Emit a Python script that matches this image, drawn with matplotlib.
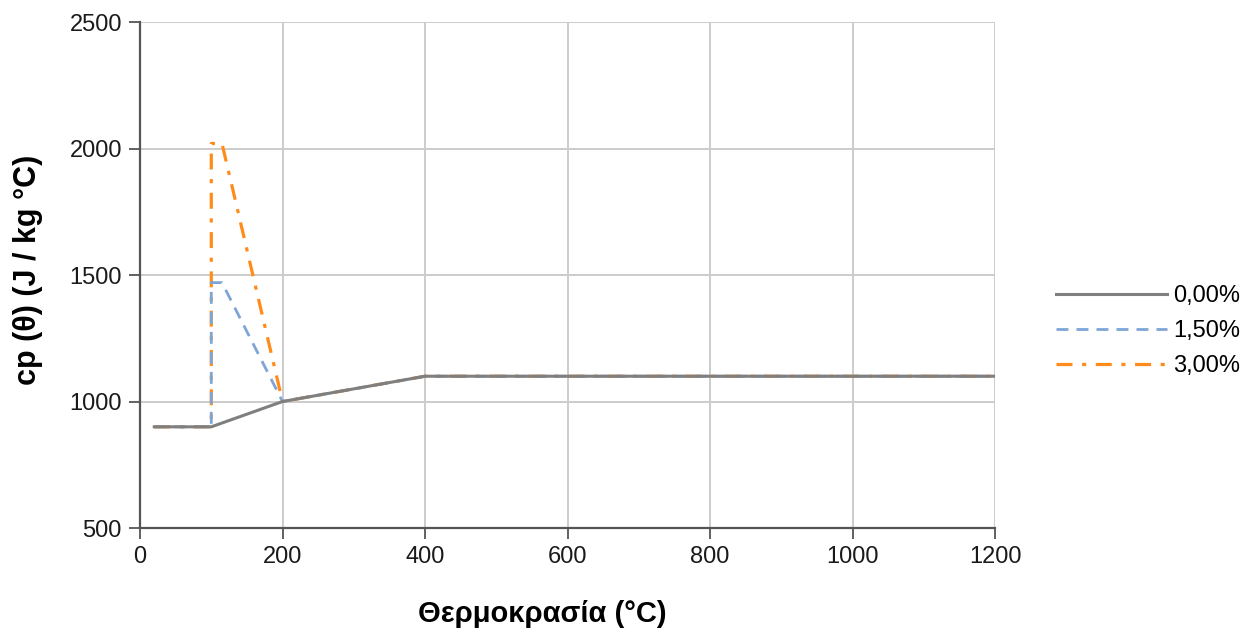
import matplotlib.pyplot as plt

plt.rcParams['font.family'] = ['Liberation Sans', 'DejaVu Sans']

# specific heat of concrete vs temperature for three moisture contents
temp_dry = [20, 100, 200, 400, 1200]
cp_dry = [900, 900, 1000, 1100, 1100]

temp_wet = [20, 100, 100, 115, 200, 400, 1200]
cp_15 = [900, 900, 1470, 1470, 1000, 1100, 1100]
cp_30 = [900, 900, 2020, 2020, 1000, 1100, 1100]

labels = ['0,00%', '1,50%', '3,00%']
x_ticks = [0, 200, 400, 600, 800, 1000, 1200]
y_ticks = [500, 1000, 1500, 2000, 2500]

fig = plt.figure(figsize=(12.57, 6.31), dpi=100)
ax = fig.add_axes([0.1114, 0.1632, 0.6802, 0.8019])

ax.plot(temp_dry, cp_dry, color='#7f7f7f', lw=2.2, label=labels[0], zorder=5)
ax.plot(temp_wet, cp_15, color='#7fa5d6', lw=2.0, ls=(0, (4.3, 2.9)), label=labels[1], zorder=4)
ax.plot(temp_wet, cp_30, color='#ff8c1a', lw=2.3, ls=(0, (5, 3, 1.3, 3)), label=labels[2], zorder=3)

ax.set_xlim(0, 1200)
ax.set_ylim(500, 2500)
ax.set_xticks(x_ticks)
ax.set_yticks(y_ticks)
ax.grid(True, color='#cccccc', lw=1.4)
ax.set_axisbelow(True)

for side in ['top', 'right']:
    ax.spines[side].set_visible(False)
for side in ['left', 'bottom']:
    ax.spines[side].set_color('#555555')
    ax.spines[side].set_linewidth(1.6)

ax.tick_params(axis='both', direction='out', length=8, width=1.3, color='#555555',
               pad=5, labelsize=17, labelcolor='#1a1a1a')

fig.text(542 / 1257, 1 - 614 / 631, 'Θερμοκρασία (°C)', fontsize=21, fontweight='bold',
         ha='center', va='center')
fig.text(28 / 1257, 1 - 270 / 631, 'cp (θ) (J / kg °C)', fontsize=22, fontweight='bold',
         ha='center', va='center', rotation=90)

ax.legend(loc='center left', bbox_to_anchor=(1.047, 0.389), frameon=False,
          fontsize=17, handlelength=4.7, handletextpad=0.25, labelspacing=0.55)

fig.savefig('out.png', dpi=100)
